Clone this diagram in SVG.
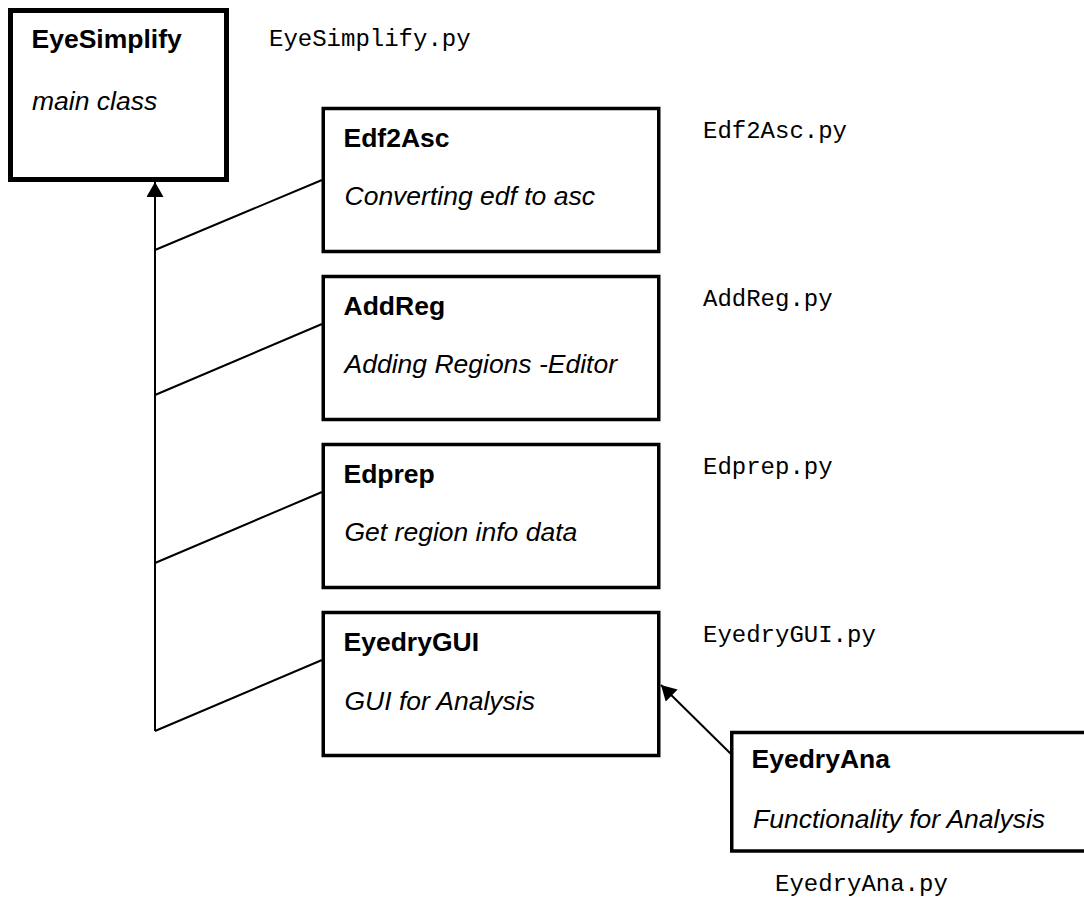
<svg xmlns="http://www.w3.org/2000/svg" width="1084" height="909" viewBox="0 0 1084 909">
  <style>
    .box { fill: #fff; stroke: #000; stroke-width: 3.5; }
    .main { fill: #fff; stroke: #000; stroke-width: 5; }
    .title { font-family: "Liberation Sans", Arial, sans-serif; font-weight: bold; font-size: 26.5px; fill: #000; }
    .sub { font-family: "Liberation Sans", Arial, sans-serif; font-style: italic; font-size: 26.5px; fill: #000; }
    .file { font-family: "Liberation Mono", "Courier New", monospace; font-size: 24px; fill: #000; }
    .conn { fill: none; stroke: #000; stroke-width: 2; }
  </style>
  <defs>
    <marker id="arrow" viewBox="0 0 15 17" refX="15" refY="8.5" markerWidth="15" markerHeight="17" markerUnits="userSpaceOnUse" orient="auto">
      <path d="M0,0 L15,8.5 L0,17 z" fill="#000"/>
    </marker>
  </defs>
  <rect width="1084" height="909" fill="#fff"/>

  <g id="connectors">
    <line class="conn" x1="155" y1="731" x2="155" y2="182" marker-end="url(#arrow)"/>
    <line class="conn" x1="155" y1="250" x2="322" y2="180"/>
    <line class="conn" x1="155" y1="395" x2="322" y2="324"/>
    <line class="conn" x1="155" y1="563" x2="322" y2="492"/>
    <line class="conn" x1="155" y1="731" x2="322" y2="660"/>
    <line class="conn" x1="731" y1="754" x2="661" y2="685" marker-end="url(#arrow)"/>
  </g>

  <g id="EyeSimplify">
    <rect class="main" x="10.5" y="10.5" width="216" height="169"/>
    <text class="title" x="31.5" y="48">EyeSimplify</text>
    <text class="sub" x="32" y="110">main class</text>
  </g>
  <text class="file" x="269" y="46">EyeSimplify.py</text>

  <g id="Edf2Asc">
    <rect class="box" x="323.25" y="108.5" width="335.5" height="143"/>
    <text class="title" x="343.5" y="147">Edf2Asc</text>
    <text class="sub" x="344.5" y="205">Converting edf to asc</text>
  </g>
  <text class="file" x="703" y="138">Edf2Asc.py</text>

  <g id="AddReg">
    <rect class="box" x="323.25" y="276.5" width="335.5" height="143"/>
    <text class="title" x="343.5" y="315">AddReg</text>
    <text class="sub" x="344.5" y="373">Adding Regions -Editor</text>
  </g>
  <text class="file" x="703" y="305.5">AddReg.py</text>

  <g id="Edprep">
    <rect class="box" x="323.25" y="444.5" width="335.5" height="143"/>
    <text class="title" x="343.5" y="483">Edprep</text>
    <text class="sub" x="344.5" y="541">Get region info data</text>
  </g>
  <text class="file" x="703" y="473.5">Edprep.py</text>

  <g id="EyedryGUI">
    <rect class="box" x="323.25" y="612.5" width="335.5" height="143"/>
    <text class="title" x="343.5" y="651">EyedryGUI</text>
    <text class="sub" x="344.5" y="710">GUI for Analysis</text>
  </g>
  <text class="file" x="703" y="641.5">EyedryGUI.py</text>

  <g id="EyedryAna">
    <rect class="box" x="731.75" y="732.5" width="400" height="118.5"/>
    <text class="title" x="751.5" y="768">EyedryAna</text>
    <text class="sub" x="753" y="828">Functionality for Analysis</text>
  </g>
  <text class="file" x="775" y="891">EyedryAna.py</text>
</svg>
